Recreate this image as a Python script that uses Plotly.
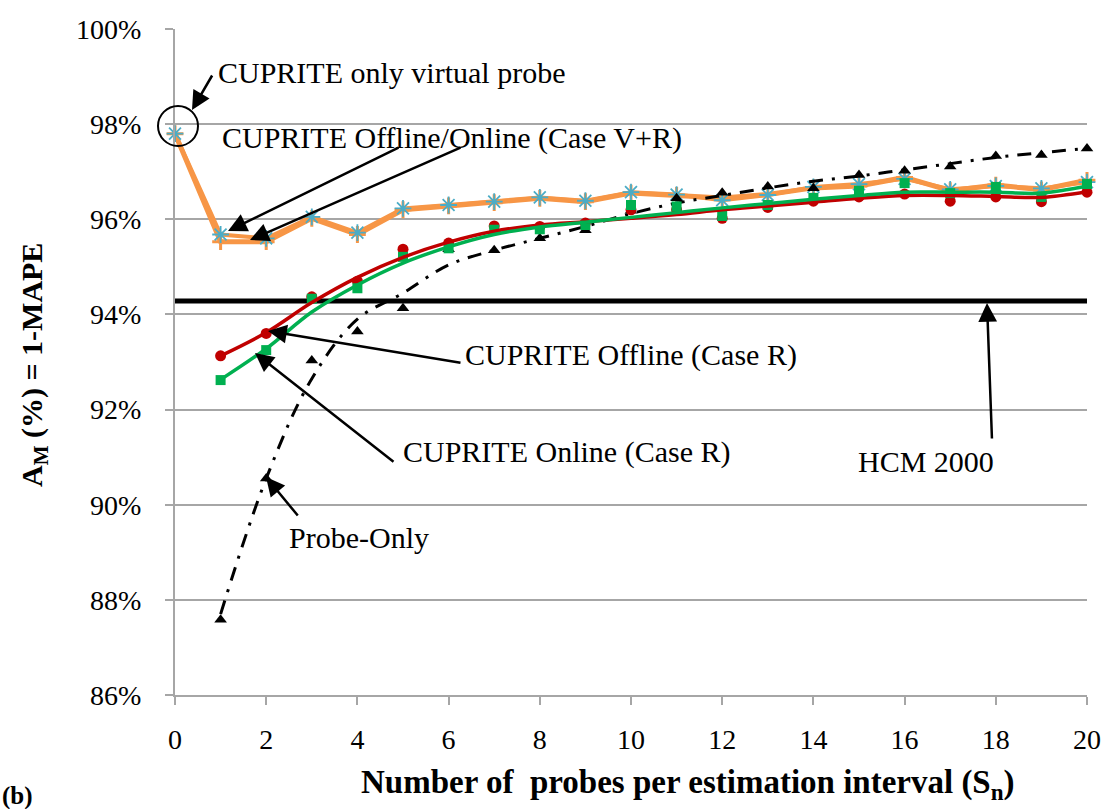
import plotly.graph_objects as go

# ---------------- data ----------------
x_vr = list(range(0, 21))
offline_vr = [97.8, 95.53, 95.53, 96.02, 95.68, 96.20, 96.28, 96.35, 96.44, 96.37, 96.55,
              96.50, 96.45, 96.52, 96.66, 96.70, 96.88, 96.60, 96.72, 96.62, 96.82]
online_vr = [97.8, 95.68, 95.60, 96.05, 95.72, 96.23, 96.30, 96.37, 96.46, 96.39, 96.57,
             96.52, 96.40, 96.51, 96.68, 96.74, 96.85, 96.63, 96.70, 96.65, 96.78]

x_r = list(range(1, 21))
offline_r_pts = [93.13, 93.60, 94.37, 94.70, 95.37, 95.50, 95.86, 95.85, 95.92, 96.20,
                 96.20, 96.02, 96.25, 96.38, 96.47, 96.53, 96.38, 96.47, 96.37, 96.57]
offline_r_curve = [93.13, 93.62, 94.25, 94.78, 95.20, 95.52, 95.75, 95.88, 95.95, 96.02,
                   96.10, 96.20, 96.28, 96.36, 96.44, 96.50, 96.50, 96.48, 96.46, 96.58]
online_r_pts = [92.62, 93.25, 94.33, 94.55, 95.21, 95.39, 95.78, 95.79, 95.88, 96.30,
                96.27, 96.07, 96.30, 96.45, 96.60, 96.76, 96.55, 96.68, 96.47, 96.74]
online_r_curve = [92.63, 93.28, 94.05, 94.62, 95.08, 95.42, 95.68, 95.84, 95.94, 96.04,
                  96.14, 96.24, 96.33, 96.42, 96.50, 96.57, 96.57, 96.57, 96.55, 96.70]
probe_pts = [87.58, 90.55, 93.03, 93.64, 94.13, 95.37, 95.35, 95.60, 95.77, 96.18,
             96.44, 96.56, 96.69, 96.65, 96.93, 97.02, 97.11, 97.33, 97.35, 97.49]
probe_curve = [87.70, 90.55, 92.65, 93.90, 94.45, 95.04, 95.35, 95.60, 95.85, 96.12,
               96.34, 96.50, 96.66, 96.80, 96.91, 97.04, 97.17, 97.30, 97.40, 97.49]
hcm_x = [0, 20]
hcm_y = [94.28, 94.28]

y_ticks = [86, 88, 90, 92, 94, 96, 98, 100]
y_ticktext = [f"{v}%" for v in y_ticks]
x_ticks = list(range(0, 21, 2))

FONT = "Liberation Serif"
ORANGE = "#F79646"
BLUE = "#4BACC6"
RED = "#C00000"
GREEN = "#00B050"

fig = go.Figure()

# HCM 2000
fig.add_trace(go.Scatter(x=hcm_x, y=hcm_y, mode="lines",
                         line=dict(color="black", width=5), hoverinfo="skip"))
# Case V+R (orange)
fig.add_trace(go.Scatter(x=x_vr, y=offline_vr, mode="lines+markers",
                         line=dict(color=ORANGE, width=5),
                         marker=dict(symbol="cross-thin", size=12, color=ORANGE,
                                     line=dict(color=ORANGE, width=3)),
                         cliponaxis=False))
fig.add_trace(go.Scatter(x=x_vr, y=online_vr, mode="lines+markers",
                         line=dict(color=ORANGE, width=4),
                         marker=dict(symbol="asterisk", size=14, color=BLUE,
                                     line=dict(color=BLUE, width=1.8)),
                         cliponaxis=False))
# Probe-only
fig.add_trace(go.Scatter(x=x_r, y=probe_curve, mode="lines", line_shape="spline",
                         line=dict(color="black", width=3, dash="14px,9px,3px,9px")))
fig.add_trace(go.Scatter(x=x_r, y=probe_pts, mode="markers",
                         marker=dict(symbol="triangle-up", size=11, color="black"),
                         cliponaxis=False))
# Case R
fig.add_trace(go.Scatter(x=x_r, y=offline_r_pts, mode="markers",
                         marker=dict(symbol="circle", size=11, color=RED), cliponaxis=False))
fig.add_trace(go.Scatter(x=x_r, y=online_r_pts, mode="markers",
                         marker=dict(symbol="square", size=10, color=GREEN), cliponaxis=False))
fig.add_trace(go.Scatter(x=x_r, y=offline_r_curve, mode="lines", line_shape="spline",
                         line=dict(color=RED, width=3.5)))
fig.add_trace(go.Scatter(x=x_r, y=online_r_curve, mode="lines", line_shape="spline",
                         line=dict(color=GREEN, width=3.5)))

L, T, W, H = 175, 29, 912, 666

# circle around virtual probe point (paper coords so it is not clipped)
fig.add_shape(type="circle", xref="paper", yref="paper", xsizemode="pixel", ysizemode="pixel",
              xanchor=(178 - L) / W, yanchor=(T + H - 126) / H, x0=-20, x1=20, y0=-20, y1=20,
              line=dict(color="black", width=2))


def px2data(px, py):
    return (px - L) / W * 20.0, 100 - (py - T) / H * 14.0


arrows = [
    ((213, 74), (192, 110)),
    ((400, 147), (228, 231)),
    ((462, 147), (250, 240)),
    ((462, 363), (268, 331)),
    ((395, 463), (255, 353)),
    ((299, 517), (266, 477)),
    ((992, 440), (987, 303)),
]
for (tx, ty), (hx, hy) in arrows:
    xd, yd = px2data(hx, hy)
    fig.add_annotation(x=xd, y=yd, xref="x", yref="y", text="", showarrow=True,
                       ax=tx - hx, ay=ty - hy, axref="pixel", ayref="pixel",
                       arrowhead=2, arrowsize=1.5, arrowwidth=2.5, arrowcolor="black")

labels = [
    ("CUPRITE only virtual probe", 216, 73),
    ("CUPRITE Offline/Online (Case V+R)", 220, 138),
    ("CUPRITE Offline (Case R)", 463, 355),
    ("CUPRITE Online (Case R)", 401, 452),
    ("Probe-Only", 287, 537),
    ("HCM 2000", 856, 462),
]
for txt, px, py in labels:
    fig.add_annotation(x=(px - L) / W, y=(T + H - py) / H, xref="paper", yref="paper",
                       text=txt, showarrow=False, xanchor="left", yanchor="middle",
                       font=dict(family=FONT, size=30, color="black"))

fig.add_annotation(x=(688 - L) / W, y=(T + H - 784) / H, xref="paper", yref="paper",
                   text="<b>Number of  probes per estimation interval (S<sub>n</sub>)</b>",
                   showarrow=False, xanchor="center", yanchor="middle",
                   font=dict(family=FONT, size=33, color="black"))
fig.add_annotation(x=(34 - L) / W, y=(T + H - 365) / H, xref="paper", yref="paper",
                   text="<b>A<sub>M</sub> (%) = 1-MAPE</b>", textangle=-90,
                   showarrow=False, xanchor="center", yanchor="middle",
                   font=dict(family=FONT, size=30, color="black"))
fig.add_annotation(x=(0 - L) / W, y=(T + H - 796) / H, xref="paper", yref="paper",
                   text="<b>(b)</b>", showarrow=False, xanchor="left", yanchor="middle",
                   font=dict(family=FONT, size=25, color="black"))

fig.update_layout(
    width=1105, height=809,
    margin=dict(l=L, r=1105 - L - W, t=T, b=809 - T - H),
    paper_bgcolor="white", plot_bgcolor="white",
    showlegend=False,
    font=dict(family=FONT, size=28, color="black"),
)
fig.update_xaxes(range=[0, 20], tickvals=x_ticks, showgrid=False, zeroline=False,
                 showline=True, linecolor="#A6A6A6", linewidth=2,
                 ticks="outside", ticklen=8, tickcolor="#A6A6A6", tickwidth=2,
                 tickfont=dict(family=FONT, size=28), ticklabelstandoff=10,
                 automargin=False)
fig.update_yaxes(range=[86, 100], tickvals=y_ticks, ticktext=y_ticktext, showgrid=True,
                 gridcolor="#A6A6A6", gridwidth=1.5, zeroline=False,
                 showline=True, linecolor="#A6A6A6", linewidth=2,
                 ticks="outside", ticklen=8, tickcolor="#A6A6A6", tickwidth=2,
                 tickfont=dict(family=FONT, size=28), ticklabelstandoff=18,
                 automargin=False)

fig.write_html("out.html", config={"displayModeBar": False},
               post_script="document.body.style.margin='0';document.body.style.padding='0';")
